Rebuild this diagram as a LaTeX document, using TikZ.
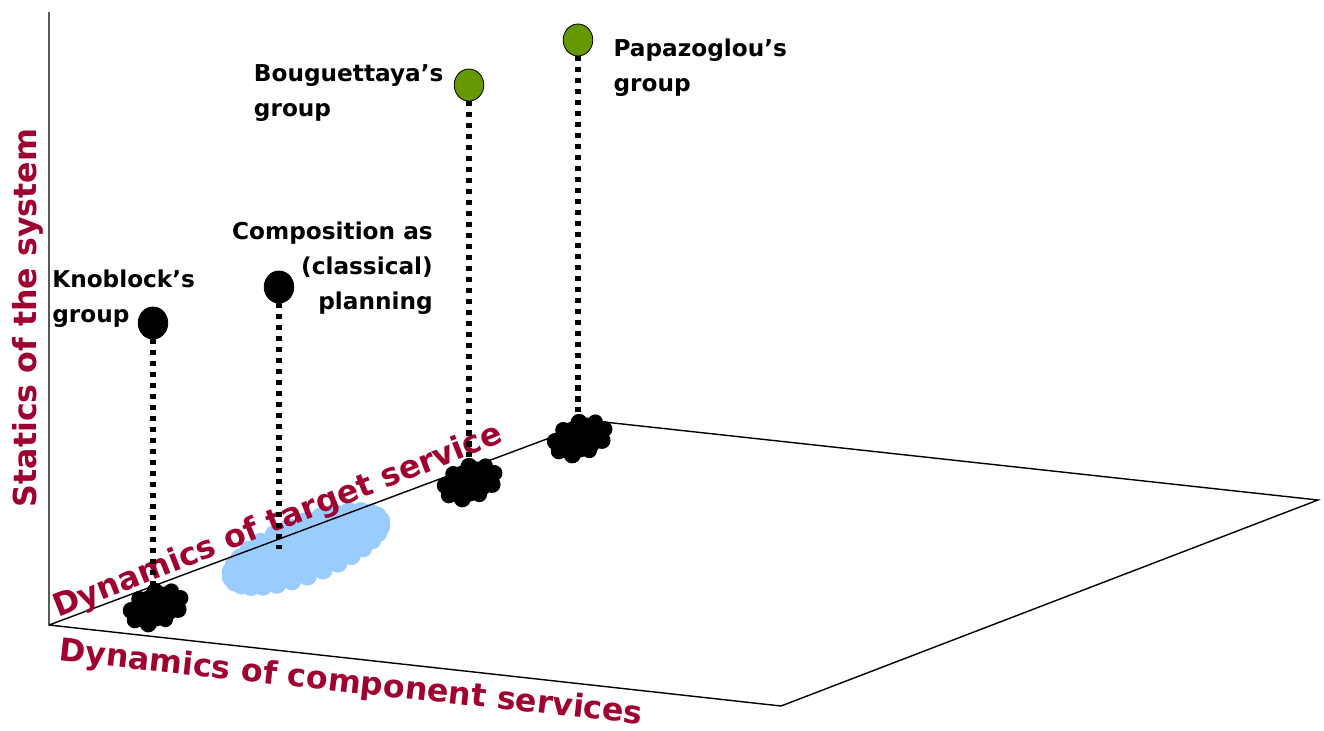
\documentclass[tikz,border=0pt]{standalone}
\usepackage{fontspec}
\setmainfont{DejaVu Sans}
\usetikzlibrary{positioning,shapes.geometric}

\definecolor{axisred}{HTML}{A00030}
\definecolor{dotgreen}{HTML}{669900}
\definecolor{blobblue}{HTML}{99CCFF}

% lumpy footprints left on the floor
\tikzset{
  pics/inkblob/.style={code={
    \fill (0,0) ellipse (0.66cm and 0.42cm);
    \foreach \a/\r in {0/0.18cm,40/0.17cm,80/0.19cm,120/0.18cm,160/0.19cm,
                       200/0.18cm,240/0.19cm,280/0.17cm,320/0.19cm}
      \fill (\a:0.58cm and 0.34cm) circle (\r);
  }},
  pics/skyblob/.style={code={
    \fill[blobblue] (0,0) ellipse (1.9cm and 0.66cm);
    \foreach \a in {0,12,...,348}
      \fill[blobblue] (\a:1.85cm and 0.6cm) circle (0.22cm);
  }}
}

\begin{document}
\begin{tikzpicture}
  [x=0.025cm,y=-0.025cm,
   groupdot/.style={ellipse,draw=black,fill=black,line width=0.6pt,
     minimum width=0.74cm,minimum height=0.8cm,inner sep=0pt},
   droplink/.style={line width=3.6pt,dash pattern=on 3.6pt off 4.2pt},
   grouplabel/.style={font=\bfseries\fontsize{16.5}{25}\selectfont,inner sep=0pt},
   axislabel/.style={font=\bfseries\fontsize{22.5}{27}\selectfont,text=axisred,inner sep=0pt}]

  \useasboundingbox (0,0) rectangle (1324,731);

  % footprints
  \coordinate (planblob) at (306,549);
  \coordinate (kblob) at (156,607);
  \coordinate (bblob) at (470,482);
  \coordinate (pblob) at (580,438);
  \pic[rotate=21,scale=1.08] at (planblob) {skyblob};

  % axes and floor
  \coordinate (o) at (49,625);
  \coordinate (up) at (49,12);
  \coordinate (front) at (781,706);
  \coordinate (far) at (1318,500);
  \coordinate (back) at (595,421);
  \draw[line width=1pt] (up) -- (o) -- (front) -- (far) -- (back) -- (o);

  \node[axislabel,rotate=90] (statics) at (28,318) {Statics of the system};
  \node[axislabel,rotate=21.5] (target) at (278,522) {Dynamics of target service};
  \node[axislabel,rotate=-6.2] (component) at (351,684) {Dynamics of component services};

  \foreach \b in {kblob,bblob,pblob}
    \pic[rotate=20,scale=1.12] at (\b) {inkblob};

  % the groups
  \node[groupdot] (kdot) at (153,323) {};
  \node[groupdot] (cdot) at (279,287) {};
  \node[groupdot,fill=dotgreen] (bdot) at (469,85) {};
  \node[groupdot,fill=dotgreen] (pdot) at (578,40) {};

  \foreach \from/\to in {kdot/kblob,cdot/planblob,bdot/bblob,pdot/pblob}
    \draw[droplink] (\from.south) -- (\from.south |- \to);

  \node[grouplabel,align=left,anchor=west] (klbl) at (52,299) {Knoblock's\\group};
  \node[grouplabel,align=right,anchor=east] (clbl) at (433,268) {Composition as\\(classical)\\planning};
  \node[grouplabel,align=left,left=0.25cm of bdot,yshift=-0.2cm] (blbl) {Bouguettaya's\\group};
  \node[grouplabel,align=left,right=0.5cm of pdot,yshift=-0.69cm] (plbl) {Papazoglou's\\group};

\end{tikzpicture}
\end{document}
